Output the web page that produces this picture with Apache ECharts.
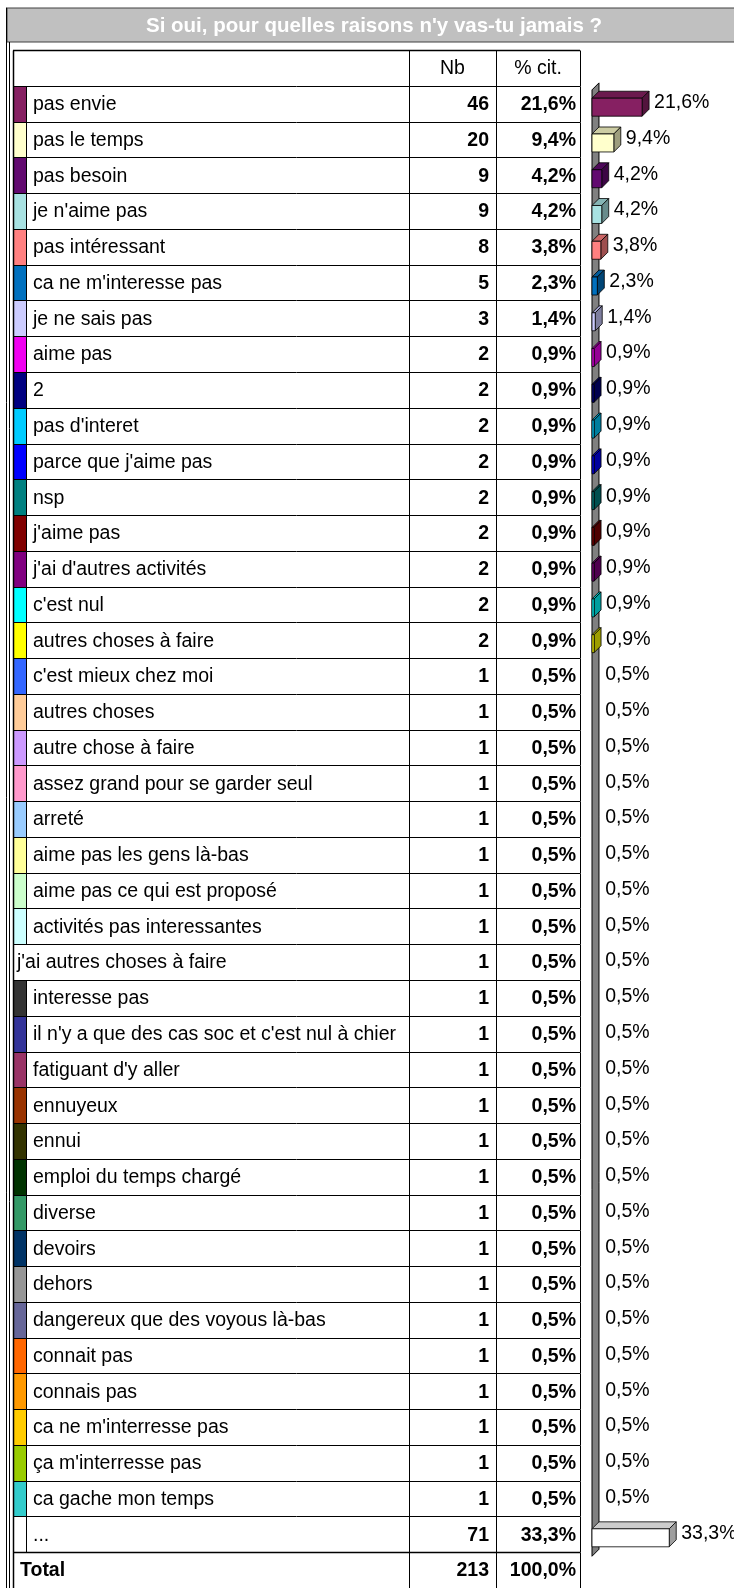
<!DOCTYPE html>
<html>
<head>
<meta charset="utf-8">
<title>Si oui, pour quelles raisons n'y vas-tu jamais ?</title>
<script src="https://cdn.jsdelivr.net/npm/echarts@6/dist/echarts.min.js"></script>
<style>
html, body { margin: 0; padding: 0; background: #fff; }
#chart { width: 734px; height: 1588px; }
</style>
</head>
<body>
<div id="chart"></div>
<script>
//titre du tableau
var titleText = "Si oui, pour quelles raisons n'y vas-tu jamais ?";
var headerNb = 'Nb';
var headerPct = '% cit.';
var totalLabel = 'Total';
var totalNb = 213;
var totalPct = 100.0;

//modalités
var categories = [
    'pas envie', 'pas le temps', 'pas besoin', "je n'aime pas", 'pas intéressant',
    "ca ne m'interesse pas", 'je ne sais pas', 'aime pas', '2', "pas d'interet",
    "parce que j'aime pas", 'nsp', "j'aime pas", "j'ai d'autres activités", "c'est nul",
    'autres choses à faire', "c'est mieux chez moi", 'autres choses', 'autre chose à faire',
    'assez grand pour se garder seul', 'arreté', 'aime pas les gens là-bas',
    'aime pas ce qui est proposé', 'activités pas interessantes', "j'ai autres choses à faire",
    'interesse pas', "il n'y a que des cas soc et c'est nul à chier", "fatiguant d'y aller",
    'ennuyeux', 'ennui', 'emploi du temps chargé', 'diverse', 'devoirs', 'dehors',
    'dangereux que des voyous là-bas', 'connait pas', 'connais pas', "ca ne m'interresse pas",
    "ça m'interresse pas", 'ca gache mon temps', '...'
];
//effectifs
var nbValues = [46, 20, 9, 9, 8, 5, 3, 2, 2, 2, 2, 2, 2, 2, 2, 2,
    1, 1, 1, 1, 1, 1, 1, 1, 1, 1, 1, 1, 1, 1, 1, 1, 1, 1, 1, 1, 1, 1, 1, 1, 71];
//% citations
var pctValues = [21.6, 9.4, 4.2, 4.2, 3.8, 2.3, 1.4, 0.9, 0.9, 0.9, 0.9, 0.9, 0.9, 0.9, 0.9, 0.9,
    0.5, 0.5, 0.5, 0.5, 0.5, 0.5, 0.5, 0.5, 0.5, 0.5, 0.5, 0.5, 0.5, 0.5, 0.5, 0.5, 0.5, 0.5,
    0.5, 0.5, 0.5, 0.5, 0.5, 0.5, 33.3];
//couleurs des modalités (null = pas de pastille)
var swatchColors = [
    '#862062', '#FFFFCC', '#620A70', '#A8E2E2', '#FF8080', '#0070BE', '#CCCCFF', '#F000F0',
    '#000080', '#00CCFF', '#0000FF', '#008080', '#800000', '#800080', '#00FFFF', '#FFFF00',
    '#3366FF', '#FFCC99', '#CC99FF', '#FF99CC', '#99CCFF', '#FFFF99', '#CCFFCC', '#CCFFFF',
    null, '#333333', '#333399', '#993366', '#993300', '#333300', '#003300', '#339966',
    '#003366', '#969696', '#666699', '#FF6600', '#FF9900', '#FFCC00', '#99CC00', '#33CCCC',
    '#FFFFFF'
];

// lignes de l'axe : entête + modalités + total
var rows = [''].concat(categories).concat([totalLabel]);

var FONT = '"Liberation Sans", Arial, sans-serif';
var FS = 19.5;
var X_LEFT = 13, X_SW = 26, X_NB = 409, X_PCT = 496, X_RIGHT = 580;
var TOP = 50.1, ROW_H = 35.86;

function fmtPct(v) {
    return v.toFixed(1).replace('.', ',') + '%';
}

function shade(hex, f) {
    var n = parseInt(hex.slice(1), 16);
    var r = Math.round(((n >> 16) & 255) * f);
    var g = Math.round(((n >> 8) & 255) * f);
    var b = Math.round((n & 255) * f);
    return 'rgb(' + r + ',' + g + ',' + b + ')';
}

function txt(text, x, y, align, bold) {
    return {
        type: 'text',
        style: {
            text: text, x: x, y: y,
            align: align, textAlign: align,
            verticalAlign: 'middle', textVerticalAlign: 'middle',
            fontFamily: FONT, fontSize: FS, fontWeight: bold ? 'bold' : 'normal',
            fill: '#000'
        }
    };
}

function hline(x1, x2, y, w) {
    return { type: 'line', shape: { x1: x1, y1: y, x2: x2, y2: y }, style: { stroke: '#000', lineWidth: w || 1 } };
}
function vline(x, y1, y2, w) {
    return { type: 'line', shape: { x1: x, y1: y1, x2: x, y2: y2 }, style: { stroke: '#000', lineWidth: w || 1 } };
}

//dessin d'une ligne du tableau
function renderTableRow(params, api) {
    var r = api.value(0);
    var c = api.coord([0, r]);
    var h = api.size([0, 1])[1];
    var y0 = Math.round(c[1] - h / 2) + 0.5;
    var y1 = Math.round(c[1] + h / 2) + 0.5;
    var yc = c[1] + 1;
    var ch = [];
    if (r === 0) {
        ch.push(txt(headerNb, (X_NB + X_PCT) / 2, yc, 'center', false));
        ch.push(txt(headerPct, (X_PCT + X_RIGHT) / 2, yc, 'center', false));
        ch.push(hline(X_LEFT, X_RIGHT, y0, 1.5));
    } else if (r === rows.length - 1) {
        ch.push(txt(totalLabel, 20, yc, 'left', true));
        ch.push(txt(String(totalNb), X_NB + 80, yc, 'right', true));
        ch.push(txt(fmtPct(totalPct), X_RIGHT - 4, yc, 'right', true));
        ch.push(hline(X_LEFT, X_RIGHT, y0, 1.5));
    } else {
        var i = r - 1;
        var col = swatchColors[i];
        var tx = 17;
        if (col) {
            ch.push({ type: 'rect', shape: { x: X_LEFT, y: y0, width: X_SW - X_LEFT, height: y1 - y0 }, style: { fill: col } });
            ch.push(vline(X_SW + 0.5, y0, y1));
            tx = 33;
        }
        ch.push(txt(categories[i], tx, yc, 'left', false));
        ch.push(txt(String(nbValues[i]), X_NB + 80, yc, 'right', true));
        ch.push(txt(fmtPct(pctValues[i]), X_RIGHT - 4, yc, 'right', true));
        ch.push(hline(X_LEFT, X_RIGHT, y0, 1));
    }
    ch.push(vline(X_LEFT + 0.5, y0, y1, 1.5));
    ch.push(vline(X_NB + 0.5, y0, y1));
    ch.push(vline(X_PCT + 0.5, y0, y1));
    ch.push(vline(X_RIGHT + 0.5, y0, y1));
    return { type: 'group', children: ch };
}

//paroi grise du graphique 3D
function renderWall(params, api) {
    var first = api.coord([0, 1]);
    var last = api.coord([0, categories.length]);
    var h = api.size([0, 1])[1];
    var d = h * 0.195;
    var x0 = first[0];
    var yt = first[1] - h / 2 + 4;
    var yb = last[1] + h / 2 + 4;
    return {
        type: 'polygon',
        shape: { points: [[x0, yt], [x0 + d, yt - d], [x0 + d, yb - d], [x0, yb]] },
        style: { fill: '#808080', stroke: '#000', lineWidth: 1 }
    };
}

//barres 3D
function renderBar3D(params, api) {
    var v = api.value(0);
    var r = api.value(1);
    var base = api.coord([0, r]);
    var end = api.coord([v, r]);
    var h = api.size([0, 1])[1];
    var d = h * 0.195;
    var top = base[1] - h / 2;
    var fy0 = top + h * 0.345, fy1 = top + h * 0.848;
    var x0 = base[0], x1 = end[0];
    var col = swatchColors[r - 1] || '#FFFFFF';
    var ch = [];
    // barre trop fine : cachée par la paroi, comme dans Excel
    if (x1 - x0 >= 1.5) {
        ch.push({ type: 'polygon', shape: { points: [[x0, fy0], [x0 + d, fy0 - d], [x1 + d, fy0 - d], [x1, fy0]] },
              style: { fill: shade(col, 0.8), stroke: '#000', lineWidth: 0.8 } });
        ch.push({ type: 'polygon', shape: { points: [[x1, fy0], [x1 + d, fy0 - d], [x1 + d, fy1 - d], [x1, fy1]] },
              style: { fill: shade(col, 0.62), stroke: '#000', lineWidth: 0.8 } });
        ch.push({ type: 'rect', shape: { x: x0, y: fy0, width: x1 - x0, height: fy1 - fy0 },
              style: { fill: col, stroke: '#000', lineWidth: 0.8 } });
    }
    ch.push({ type: 'text', style: { text: fmtPct(v), x: x1 + d + 5, y: base[1] - 1,
              align: 'left', textAlign: 'left', verticalAlign: 'middle', textVerticalAlign: 'middle',
              fontFamily: FONT, fontSize: FS, fill: '#000' } });
    return { type: 'group', children: ch };
}

var tableData = [];
for (var k = 0; k < rows.length; k++) {
    tableData.push([k]);
}
var barData = [];
for (var j = 0; j < pctValues.length; j++) {
    barData.push([pctValues[j], j + 1]);
}

var myChart = echarts.init(document.getElementById('chart'), null, { renderer: 'canvas' });
var gridH = ROW_H * rows.length;
var option = {
    animation: false,
    backgroundColor: '#fff',
    grid: [
        { left: 0, width: 734, top: TOP, height: gridH },
        { left: 592, width: 92.8, top: TOP, height: gridH }
    ],
    xAxis: [
        { gridIndex: 0, type: 'value', min: 0, max: 734, show: false },
        { gridIndex: 1, type: 'value', min: 0, max: 40, show: false }
    ],
    yAxis: [
        { gridIndex: 0, type: 'category', data: rows, inverse: true, show: false },
        { gridIndex: 1, type: 'category', data: rows, inverse: true, show: false }
    ],
    graphic: [
        { type: 'rect', shape: { x: 7, y: 8, width: 740, height: 34 },
          style: { fill: '#C0C0C0', stroke: '#404040', lineWidth: 1 } },
        { type: 'text', x: 374, y: 26, style: { text: titleText, align: 'center', verticalAlign: 'middle',
          textAlign: 'center', textVerticalAlign: 'middle',
          fontFamily: FONT, fontSize: 20.5, fontWeight: 'bold', fill: '#fff' } },
        { type: 'line', shape: { x1: 6.5, y1: 7.5, x2: 6.5, y2: 1588 }, style: { stroke: '#000', lineWidth: 1 } },
        { type: 'line', shape: { x1: 9.5, y1: 42, x2: 9.5, y2: 1588 }, style: { stroke: '#000', lineWidth: 1 } }
    ],
    series: [
        { type: 'custom', name: 'tableau', xAxisIndex: 0, yAxisIndex: 0, data: tableData,
          encode: { y: 0 }, renderItem: renderTableRow, clip: false, z: 2 },
        { type: 'custom', name: 'paroi', xAxisIndex: 1, yAxisIndex: 1, data: [[0, 1]],
          encode: { x: 0, y: 1 }, renderItem: renderWall, clip: false, z: 2 },
        { type: 'custom', name: '% cit.', xAxisIndex: 1, yAxisIndex: 1, data: barData,
          encode: { x: 0, y: 1 }, renderItem: renderBar3D, clip: false, z: 3 }
    ]
};
myChart.setOption(option);
</script>
</body>
</html>
